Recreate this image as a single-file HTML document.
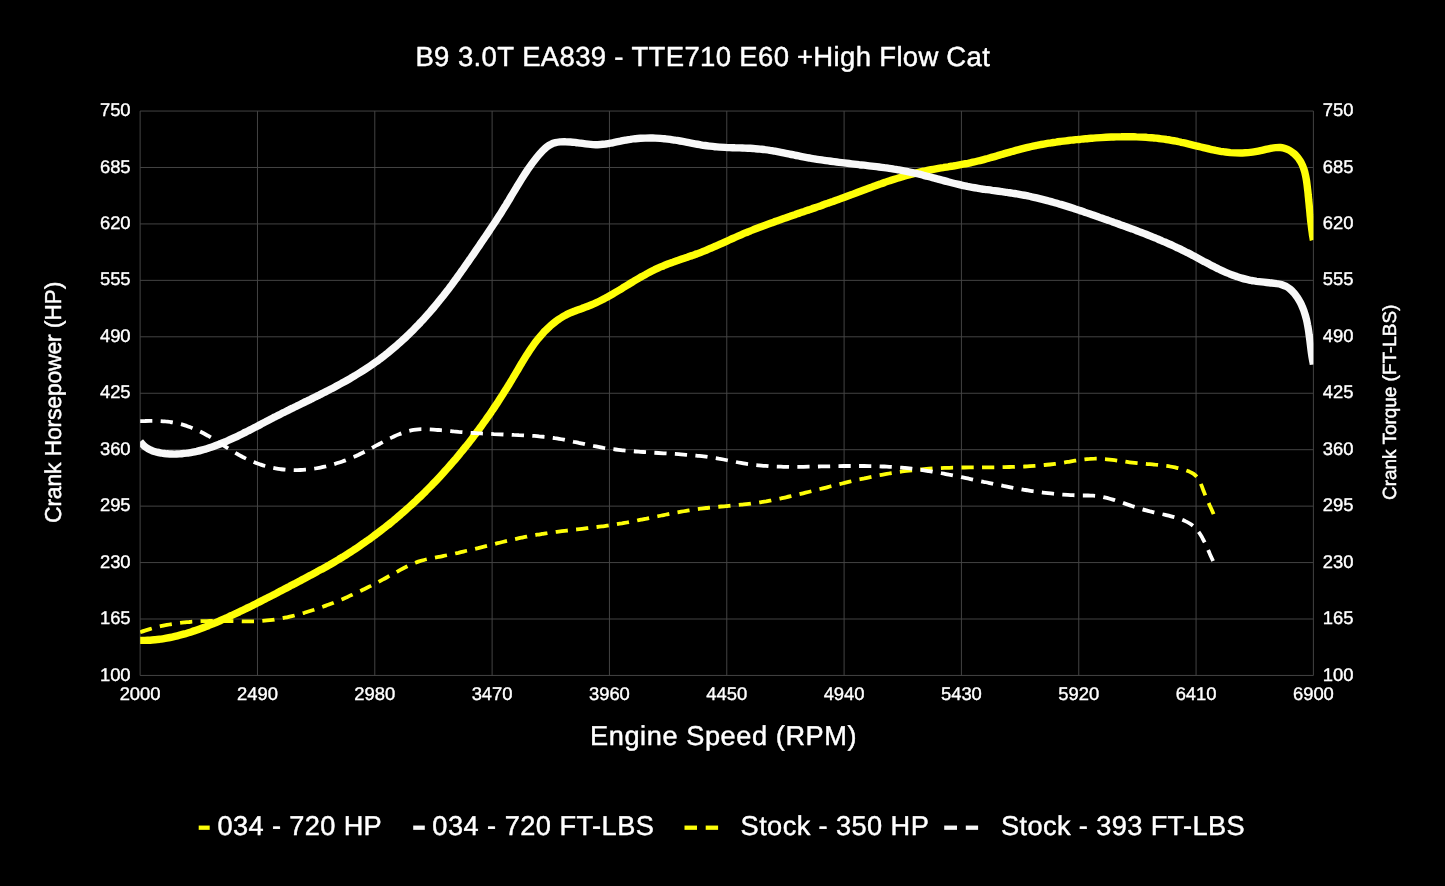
<!DOCTYPE html>
<html><head><meta charset="utf-8"><title>Dyno Chart</title>
<style>
html,body{margin:0;padding:0;background:#000;}
body{width:1445px;height:886px;overflow:hidden;}
svg{display:block;will-change:transform;}
text{font-family:"Liberation Sans",sans-serif;fill:#fff;stroke:#fff;stroke-width:0.45px;stroke-linejoin:round;text-rendering:geometricPrecision;}
.tk text{stroke-width:0.38px;}
</style></head><body>
<svg width="1445" height="886" viewBox="0 0 1445 886">
<rect width="1445" height="886" fill="#000"/>
<defs><clipPath id="pc"><rect x="140.1" y="101.0" width="1173.3" height="584.4"/></clipPath></defs>
<g stroke="#474747" stroke-width="0.95" fill="none">
<line x1="140.14" y1="111.05" x2="140.14" y2="675.45"/>
<line x1="257.47" y1="111.05" x2="257.47" y2="675.45"/>
<line x1="374.79" y1="111.05" x2="374.79" y2="675.45"/>
<line x1="492.12" y1="111.05" x2="492.12" y2="675.45"/>
<line x1="609.44" y1="111.05" x2="609.44" y2="675.45"/>
<line x1="726.77" y1="111.05" x2="726.77" y2="675.45"/>
<line x1="844.10" y1="111.05" x2="844.10" y2="675.45"/>
<line x1="961.42" y1="111.05" x2="961.42" y2="675.45"/>
<line x1="1078.75" y1="111.05" x2="1078.75" y2="675.45"/>
<line x1="1196.07" y1="111.05" x2="1196.07" y2="675.45"/>
<line x1="1313.40" y1="111.05" x2="1313.40" y2="675.45"/>
<line x1="140.14" y1="111.05" x2="1313.40" y2="111.05"/>
<line x1="140.14" y1="167.49" x2="1313.40" y2="167.49"/>
<line x1="140.14" y1="223.93" x2="1313.40" y2="223.93"/>
<line x1="140.14" y1="280.37" x2="1313.40" y2="280.37"/>
<line x1="140.14" y1="336.81" x2="1313.40" y2="336.81"/>
<line x1="140.14" y1="393.25" x2="1313.40" y2="393.25"/>
<line x1="140.14" y1="449.69" x2="1313.40" y2="449.69"/>
<line x1="140.14" y1="506.13" x2="1313.40" y2="506.13"/>
<line x1="140.14" y1="562.57" x2="1313.40" y2="562.57"/>
<line x1="140.14" y1="619.01" x2="1313.40" y2="619.01"/>
<line x1="140.14" y1="675.45" x2="1313.40" y2="675.45"/>
</g>
<g clip-path="url(#pc)" fill="none" stroke-linejoin="round">
<path d="M140.1 640.4C140.9 640.4 143.5 640.4 145.1 640.4C146.8 640.3 148.5 640.3 150.2 640.2C151.9 640.1 153.5 639.9 155.2 639.7C156.9 639.6 158.5 639.4 160.2 639.2C161.8 638.9 163.5 638.7 165.1 638.4C166.8 638.1 168.4 637.8 170.0 637.5C171.7 637.2 173.3 636.8 174.9 636.4C176.5 636.0 178.2 635.6 179.8 635.2C181.4 634.8 183.0 634.4 184.6 633.9C186.2 633.4 187.8 633.0 189.4 632.5C191.0 632.0 192.6 631.4 194.2 630.9C195.8 630.4 197.4 629.8 199.0 629.2C200.5 628.7 202.1 628.1 203.7 627.5C205.3 626.9 206.8 626.3 208.4 625.7C210.0 625.0 211.5 624.4 213.1 623.7C214.6 623.1 216.2 622.4 217.7 621.8C219.3 621.1 220.8 620.4 222.4 619.7C223.9 619.0 225.4 618.4 227.0 617.7C228.5 617.0 230.0 616.2 231.6 615.5C233.1 614.8 234.6 614.1 236.1 613.4C237.7 612.7 239.2 611.9 240.7 611.2C242.2 610.5 243.7 609.8 245.2 609.0C246.7 608.3 248.2 607.5 249.7 606.8C251.2 606.1 252.7 605.3 254.2 604.6C255.7 603.8 257.2 603.1 258.7 602.3C260.2 601.6 261.7 600.8 263.2 600.0C264.7 599.3 266.2 598.5 267.6 597.8C269.1 597.0 270.6 596.2 272.1 595.5C273.6 594.7 275.1 593.9 276.5 593.2C278.0 592.4 279.5 591.6 281.0 590.8C282.5 590.1 284.0 589.3 285.4 588.5C286.9 587.7 288.4 587.0 289.9 586.2C291.4 585.4 292.8 584.6 294.3 583.9C295.8 583.1 297.3 582.3 298.8 581.5C300.3 580.7 301.7 579.9 303.2 579.2C304.7 578.4 306.2 577.6 307.7 576.8C309.2 576.0 310.6 575.2 312.1 574.4C313.6 573.6 315.1 572.8 316.6 572.0C318.0 571.2 319.5 570.4 321.0 569.6C322.5 568.8 323.9 568.0 325.4 567.2C326.9 566.4 328.3 565.5 329.8 564.7C331.2 563.9 332.7 563.0 334.1 562.2C335.6 561.3 337.0 560.5 338.5 559.6C339.9 558.7 341.3 557.9 342.8 557.0C344.2 556.1 345.6 555.2 347.0 554.3C348.5 553.4 349.9 552.5 351.3 551.6C352.7 550.7 354.1 549.7 355.5 548.8C356.9 547.9 358.3 547.0 359.7 546.0C361.0 545.1 362.4 544.1 363.8 543.1C365.2 542.2 366.5 541.2 367.9 540.2C369.3 539.3 370.6 538.3 372.0 537.3C373.3 536.3 374.7 535.3 376.0 534.3C377.4 533.3 378.7 532.3 380.0 531.3C381.4 530.2 382.7 529.2 384.0 528.2C385.3 527.1 386.6 526.1 388.0 525.1C389.3 524.0 390.6 523.0 391.9 521.9C393.2 520.8 394.5 519.8 395.7 518.7C397.0 517.6 398.3 516.5 399.6 515.4C400.8 514.3 402.1 513.2 403.4 512.1C404.6 511.0 405.9 509.9 407.1 508.8C408.4 507.7 409.6 506.6 410.9 505.4C412.1 504.3 413.3 503.2 414.6 502.0C415.8 500.9 417.0 499.7 418.2 498.6C419.5 497.4 420.7 496.3 421.9 495.1C423.1 493.9 424.3 492.8 425.5 491.6C426.6 490.4 427.8 489.2 429.0 488.0C430.2 486.8 431.4 485.6 432.5 484.4C433.7 483.2 434.8 482.0 436.0 480.8C437.2 479.6 438.3 478.4 439.4 477.2C440.6 475.9 441.7 474.7 442.8 473.5C444.0 472.2 445.1 471.0 446.2 469.7C447.3 468.5 448.4 467.2 449.5 466.0C450.7 464.7 451.7 463.5 452.8 462.2C453.9 460.9 455.0 459.6 456.1 458.4C457.2 457.1 458.3 455.8 459.3 454.5C460.4 453.2 461.4 451.9 462.5 450.6C463.6 449.3 464.6 448.0 465.7 446.7C466.7 445.4 467.7 444.1 468.8 442.8C469.8 441.5 470.8 440.1 471.9 438.8C472.9 437.5 473.9 436.1 474.9 434.8C475.9 433.5 476.9 432.1 477.9 430.8C478.9 429.4 479.9 428.1 480.9 426.7C481.9 425.4 482.9 424.0 483.8 422.6C484.8 421.3 485.8 419.9 486.7 418.5C487.7 417.1 488.7 415.8 489.6 414.4C490.6 413.0 491.5 411.6 492.5 410.2C493.4 408.8 494.3 407.4 495.3 406.0C496.2 404.6 497.1 403.2 498.1 401.8C499.0 400.4 499.9 399.0 500.8 397.6C501.7 396.2 502.6 394.8 503.5 393.3C504.4 391.9 505.3 390.5 506.2 389.1C507.1 387.6 508.0 386.2 508.9 384.8C509.7 383.3 510.6 381.9 511.5 380.4C512.4 379.0 513.2 377.5 514.1 376.1C514.9 374.6 515.8 373.2 516.7 371.7C517.5 370.3 518.4 368.8 519.2 367.4C520.1 365.9 520.9 364.5 521.8 363.0C522.7 361.6 523.5 360.1 524.4 358.7C525.3 357.3 526.2 355.9 527.1 354.4C528.0 353.0 528.9 351.6 529.8 350.2C530.8 348.9 531.7 347.5 532.7 346.1C533.6 344.8 534.6 343.4 535.6 342.1C536.6 340.8 537.6 339.5 538.7 338.2C539.7 336.9 540.8 335.6 541.9 334.4C543.0 333.2 544.1 331.9 545.3 330.7C546.5 329.6 547.7 328.4 548.9 327.3C550.1 326.1 551.4 325.0 552.7 323.9C553.9 322.9 555.3 321.8 556.6 320.8C558.0 319.9 559.4 318.9 560.8 318.0C562.2 317.1 563.7 316.2 565.1 315.4C566.6 314.6 568.1 313.9 569.6 313.2C571.2 312.5 572.7 311.9 574.3 311.3C575.8 310.6 577.4 310.1 579.0 309.5C580.6 308.9 582.2 308.4 583.8 307.8C585.3 307.2 586.9 306.7 588.5 306.0C590.1 305.4 591.6 304.8 593.1 304.1C594.7 303.5 596.2 302.8 597.7 302.0C599.2 301.3 600.7 300.6 602.2 299.8C603.7 299.0 605.2 298.3 606.6 297.4C608.1 296.6 609.6 295.8 611.0 295.0C612.5 294.2 613.9 293.3 615.4 292.4C616.8 291.6 618.3 290.7 619.7 289.9C621.1 289.0 622.6 288.1 624.0 287.2C625.4 286.3 626.9 285.5 628.3 284.6C629.7 283.7 631.2 282.8 632.6 282.0C634.0 281.1 635.5 280.2 636.9 279.4C638.4 278.5 639.8 277.7 641.3 276.8C642.7 276.0 644.2 275.2 645.7 274.4C647.1 273.6 648.6 272.8 650.1 272.0C651.6 271.2 653.0 270.5 654.6 269.7C656.1 269.0 657.6 268.3 659.1 267.6C660.6 267.0 662.2 266.3 663.7 265.7C665.3 265.0 666.8 264.4 668.4 263.8C670.0 263.3 671.5 262.7 673.1 262.1C674.7 261.5 676.3 261.0 677.9 260.4C679.4 259.9 681.0 259.4 682.6 258.8C684.2 258.3 685.8 257.7 687.4 257.2C689.0 256.6 690.6 256.1 692.2 255.5C693.8 255.0 695.3 254.4 696.9 253.9C698.5 253.3 700.1 252.7 701.6 252.1C703.2 251.5 704.7 250.8 706.3 250.2C707.8 249.6 709.4 248.9 710.9 248.2C712.5 247.6 714.0 246.9 715.5 246.2C717.1 245.6 718.6 244.9 720.1 244.2C721.7 243.5 723.2 242.8 724.7 242.1C726.2 241.4 727.8 240.7 729.3 240.0C730.8 239.3 732.3 238.6 733.9 238.0C735.4 237.3 736.9 236.6 738.5 235.9C740.0 235.3 741.5 234.6 743.1 233.9C744.6 233.3 746.2 232.6 747.7 232.0C749.3 231.4 750.8 230.7 752.4 230.1C753.9 229.5 755.5 228.9 757.1 228.3C758.6 227.7 760.2 227.1 761.8 226.5C763.3 225.9 764.9 225.3 766.5 224.7C768.0 224.2 769.6 223.6 771.2 223.0C772.8 222.4 774.3 221.9 775.9 221.3C777.5 220.7 779.1 220.2 780.7 219.6C782.3 219.1 783.8 218.5 785.4 218.0C787.0 217.4 788.6 216.8 790.2 216.3C791.8 215.7 793.3 215.2 794.9 214.7C796.5 214.1 798.1 213.6 799.7 213.0C801.3 212.5 802.9 211.9 804.4 211.4C806.0 210.8 807.6 210.3 809.2 209.7C810.8 209.2 812.4 208.6 814.0 208.1C815.5 207.6 817.1 207.0 818.7 206.5C820.3 205.9 821.9 205.4 823.5 204.8C825.0 204.2 826.6 203.7 828.2 203.1C829.8 202.6 831.4 202.0 833.0 201.5C834.5 200.9 836.1 200.3 837.7 199.8C839.3 199.2 840.8 198.6 842.4 198.0C844.0 197.5 845.6 196.9 847.1 196.3C848.7 195.7 850.3 195.1 851.8 194.6C853.4 194.0 855.0 193.4 856.6 192.8C858.1 192.2 859.7 191.6 861.3 191.0C862.8 190.4 864.4 189.8 866.0 189.2C867.5 188.7 869.1 188.1 870.7 187.5C872.3 186.9 873.8 186.3 875.4 185.8C877.0 185.2 878.6 184.6 880.1 184.1C881.7 183.5 883.3 182.9 884.9 182.4C886.5 181.8 888.1 181.3 889.7 180.8C891.3 180.2 892.8 179.7 894.4 179.2C896.0 178.7 897.6 178.2 899.3 177.7C900.9 177.2 902.5 176.7 904.1 176.2C905.7 175.8 907.3 175.3 908.9 174.9C910.5 174.4 912.2 174.0 913.8 173.6C915.4 173.2 917.0 172.8 918.7 172.4C920.3 172.0 921.9 171.6 923.6 171.2C925.2 170.9 926.8 170.5 928.5 170.2C930.1 169.9 931.8 169.6 933.4 169.3C935.1 169.0 936.7 168.7 938.4 168.4C940.0 168.1 941.7 167.8 943.3 167.6C945.0 167.3 946.6 167.0 948.3 166.8C950.0 166.5 951.6 166.2 953.3 166.0C954.9 165.7 956.6 165.4 958.2 165.1C959.9 164.8 961.5 164.5 963.2 164.2C964.8 163.9 966.5 163.6 968.1 163.3C969.8 162.9 971.4 162.6 973.0 162.2C974.7 161.8 976.3 161.4 977.9 161.0C979.6 160.6 981.2 160.2 982.8 159.8C984.4 159.4 986.1 158.9 987.7 158.5C989.3 158.0 990.9 157.6 992.5 157.1C994.2 156.7 995.8 156.2 997.4 155.7C999.0 155.3 1000.6 154.8 1002.2 154.3C1003.8 153.9 1005.5 153.4 1007.1 152.9C1008.7 152.5 1010.3 152.0 1011.9 151.5C1013.5 151.1 1015.2 150.6 1016.8 150.2C1018.4 149.7 1020.0 149.3 1021.6 148.9C1023.3 148.5 1024.9 148.1 1026.5 147.7C1028.1 147.3 1029.8 146.9 1031.4 146.5C1033.0 146.1 1034.7 145.8 1036.3 145.5C1037.9 145.1 1039.6 144.8 1041.2 144.5C1042.9 144.2 1044.5 143.9 1046.2 143.6C1047.8 143.3 1049.4 143.1 1051.1 142.8C1052.7 142.6 1054.4 142.3 1056.1 142.1C1057.7 141.8 1059.4 141.6 1061.0 141.4C1062.7 141.2 1064.3 141.0 1066.0 140.8C1067.7 140.6 1069.3 140.4 1071.0 140.2C1072.7 140.0 1074.3 139.9 1076.0 139.7C1077.7 139.5 1079.3 139.3 1081.0 139.2C1082.7 139.0 1084.3 138.9 1086.0 138.7C1087.7 138.6 1089.4 138.4 1091.0 138.3C1092.7 138.2 1094.4 138.0 1096.1 137.9C1097.7 137.8 1099.4 137.7 1101.1 137.6C1102.8 137.5 1104.5 137.4 1106.1 137.3C1107.8 137.2 1109.5 137.1 1111.2 137.0C1112.9 137.0 1114.5 136.9 1116.2 136.9C1117.9 136.8 1119.6 136.8 1121.3 136.8C1122.9 136.7 1124.6 136.7 1126.3 136.7C1128.0 136.7 1129.6 136.7 1131.3 136.7C1133.0 136.8 1134.7 136.8 1136.4 136.9C1138.0 136.9 1139.7 137.0 1141.4 137.1C1143.0 137.1 1144.7 137.2 1146.4 137.3C1148.1 137.5 1149.7 137.6 1151.4 137.7C1153.1 137.9 1154.7 138.0 1156.4 138.2C1158.1 138.4 1159.7 138.6 1161.4 138.8C1163.1 139.0 1164.7 139.2 1166.4 139.5C1168.0 139.7 1169.7 140.0 1171.3 140.3C1173.0 140.6 1174.6 140.9 1176.3 141.2C1177.9 141.6 1179.6 141.9 1181.2 142.3C1182.9 142.6 1184.5 143.0 1186.2 143.4C1187.8 143.8 1189.4 144.2 1191.1 144.6C1192.7 145.0 1194.3 145.4 1196.0 145.8C1197.6 146.2 1199.3 146.6 1200.9 147.0C1202.5 147.4 1204.2 147.8 1205.8 148.2C1207.4 148.6 1209.1 149.0 1210.7 149.3C1212.3 149.7 1214.0 150.0 1215.6 150.4C1217.3 150.7 1218.9 151.0 1220.5 151.3C1222.2 151.5 1223.8 151.8 1225.5 152.0C1227.1 152.2 1228.7 152.4 1230.4 152.6C1232.0 152.7 1233.7 152.8 1235.4 152.9C1237.0 153.0 1238.7 153.0 1240.3 153.0C1242.0 153.0 1243.7 152.9 1245.3 152.8C1247.0 152.7 1248.7 152.6 1250.3 152.4C1252.0 152.2 1253.7 151.9 1255.4 151.6C1257.1 151.3 1258.8 151.0 1260.5 150.6C1262.2 150.3 1263.9 149.8 1265.6 149.4C1267.3 149.0 1269.0 148.6 1270.6 148.3C1272.3 148.0 1274.0 147.7 1275.6 147.6C1277.3 147.5 1278.9 147.4 1280.5 147.5C1282.1 147.7 1283.6 148.0 1285.1 148.5C1286.6 149.0 1288.1 149.6 1289.5 150.4C1290.9 151.2 1292.2 152.2 1293.5 153.2C1294.7 154.2 1295.9 155.4 1297.0 156.7C1298.1 158.0 1299.1 159.3 1300.0 160.7C1300.9 162.2 1301.7 163.7 1302.4 165.2C1303.1 166.7 1303.6 168.3 1304.1 169.9C1304.7 171.5 1305.1 173.2 1305.4 174.9C1305.8 176.6 1306.1 178.3 1306.4 180.0C1306.7 181.7 1306.9 183.4 1307.1 185.1C1307.3 186.8 1307.5 188.5 1307.7 190.2C1307.9 191.9 1308.1 193.5 1308.2 195.2C1308.4 196.9 1308.6 198.6 1308.7 200.2C1308.9 201.9 1309.0 203.5 1309.2 205.2C1309.3 206.8 1309.5 208.5 1309.7 210.1C1309.8 211.8 1310.0 213.4 1310.1 215.0C1310.3 216.7 1310.5 218.3 1310.6 220.0C1310.8 221.6 1311.0 223.3 1311.2 224.9C1311.4 226.6 1311.6 228.3 1311.8 229.9C1312.1 231.6 1312.3 233.3 1312.5 235.0C1312.8 236.6 1313.2 239.2 1313.4 240.0" stroke="#fefe08" stroke-width="7.4"/>
<path d="M140.2 441.7C140.7 442.3 142.4 444.4 143.6 445.5C144.9 446.7 146.3 447.6 147.7 448.5C149.1 449.3 150.6 450.0 152.1 450.7C153.7 451.3 155.3 451.7 156.9 452.2C158.5 452.6 160.2 452.9 161.8 453.2C163.5 453.4 165.1 453.6 166.8 453.8C168.5 453.9 170.1 454.0 171.8 454.0C173.5 454.1 175.2 454.1 176.8 454.0C178.5 454.0 180.2 453.9 181.8 453.7C183.5 453.6 185.2 453.4 186.8 453.2C188.5 452.9 190.2 452.7 191.8 452.4C193.5 452.1 195.1 451.7 196.7 451.4C198.4 451.0 200.0 450.6 201.6 450.1C203.2 449.7 204.8 449.2 206.4 448.8C208.0 448.3 209.6 447.7 211.2 447.2C212.8 446.7 214.4 446.1 215.9 445.5C217.5 444.9 219.1 444.3 220.6 443.7C222.2 443.1 223.7 442.4 225.3 441.8C226.8 441.1 228.4 440.4 229.9 439.7C231.4 439.0 232.9 438.3 234.4 437.6C236.0 436.9 237.5 436.2 239.0 435.4C240.5 434.7 242.0 434.0 243.5 433.2C245.0 432.5 246.4 431.7 247.9 431.0C249.4 430.2 250.9 429.5 252.4 428.7C253.9 427.9 255.3 427.2 256.8 426.4C258.3 425.6 259.8 424.8 261.2 424.1C262.7 423.3 264.2 422.5 265.6 421.8C267.1 421.0 268.6 420.2 270.1 419.4C271.6 418.7 273.0 417.9 274.5 417.1C276.0 416.4 277.5 415.6 279.0 414.9C280.5 414.1 282.0 413.4 283.5 412.6C285.0 411.9 286.5 411.1 288.0 410.4C289.5 409.6 291.0 408.9 292.5 408.2C294.0 407.4 295.5 406.7 297.0 405.9C298.5 405.2 300.0 404.5 301.5 403.7C303.0 403.0 304.5 402.2 306.1 401.5C307.6 400.8 309.1 400.0 310.6 399.3C312.1 398.5 313.6 397.8 315.1 397.0C316.6 396.3 318.1 395.5 319.6 394.8C321.1 394.0 322.6 393.3 324.1 392.5C325.6 391.7 327.1 391.0 328.6 390.2C330.1 389.4 331.6 388.7 333.1 387.9C334.6 387.1 336.0 386.3 337.5 385.5C339.0 384.7 340.5 383.9 341.9 383.1C343.4 382.3 344.9 381.5 346.3 380.7C347.8 379.8 349.2 379.0 350.7 378.2C352.1 377.3 353.6 376.5 355.0 375.6C356.4 374.8 357.9 373.9 359.3 373.0C360.7 372.1 362.1 371.2 363.5 370.3C364.9 369.4 366.3 368.5 367.7 367.6C369.1 366.7 370.5 365.8 371.9 364.8C373.2 363.9 374.6 362.9 375.9 361.9C377.3 361.0 378.6 360.0 380.0 359.0C381.3 358.0 382.6 357.0 384.0 356.0C385.3 354.9 386.6 353.9 387.9 352.9C389.2 351.8 390.5 350.7 391.7 349.7C393.0 348.6 394.3 347.5 395.6 346.4C396.8 345.3 398.1 344.2 399.3 343.1C400.6 342.0 401.8 340.9 403.0 339.8C404.3 338.6 405.5 337.5 406.7 336.3C407.9 335.2 409.1 334.0 410.3 332.8C411.5 331.7 412.7 330.5 413.9 329.3C415.0 328.1 416.2 326.9 417.4 325.7C418.5 324.5 419.7 323.3 420.8 322.0C422.0 320.8 423.1 319.6 424.2 318.4C425.3 317.1 426.5 315.9 427.6 314.6C428.7 313.4 429.8 312.1 430.9 310.8C432.0 309.6 433.1 308.3 434.2 307.0C435.2 305.7 436.3 304.4 437.4 303.1C438.4 301.8 439.5 300.5 440.5 299.2C441.6 297.9 442.6 296.6 443.7 295.3C444.7 294.0 445.7 292.7 446.8 291.3C447.8 290.0 448.8 288.7 449.8 287.3C450.8 286.0 451.8 284.7 452.8 283.3C453.8 282.0 454.8 280.6 455.8 279.3C456.8 277.9 457.7 276.6 458.7 275.2C459.7 273.9 460.7 272.5 461.6 271.1C462.6 269.8 463.6 268.4 464.5 267.0C465.5 265.7 466.4 264.3 467.4 262.9C468.3 261.5 469.3 260.2 470.2 258.8C471.2 257.4 472.1 256.0 473.1 254.7C474.0 253.3 475.0 251.9 475.9 250.5C476.9 249.1 477.8 247.8 478.8 246.4C479.7 245.0 480.6 243.6 481.6 242.2C482.5 240.8 483.5 239.5 484.4 238.1C485.3 236.7 486.3 235.3 487.2 233.9C488.1 232.5 489.1 231.1 490.0 229.7C490.9 228.3 491.9 227.0 492.8 225.6C493.7 224.2 494.6 222.8 495.5 221.4C496.4 220.0 497.4 218.6 498.3 217.1C499.2 215.7 500.1 214.3 501.0 212.9C501.9 211.5 502.8 210.1 503.6 208.7C504.5 207.3 505.4 205.8 506.3 204.4C507.1 203.0 508.0 201.6 508.9 200.1C509.7 198.7 510.6 197.3 511.4 195.8C512.3 194.4 513.2 192.9 514.0 191.5C514.9 190.1 515.7 188.6 516.6 187.2C517.4 185.8 518.3 184.3 519.2 182.9C520.1 181.5 520.9 180.1 521.8 178.7C522.7 177.2 523.6 175.8 524.5 174.4C525.4 173.0 526.4 171.6 527.3 170.2C528.2 168.9 529.2 167.5 530.2 166.1C531.2 164.7 532.1 163.4 533.2 162.0C534.2 160.7 535.2 159.4 536.3 158.0C537.3 156.7 538.4 155.4 539.5 154.1C540.7 152.9 541.8 151.6 543.0 150.4C544.2 149.2 545.4 148.0 546.7 147.0C548.0 146.0 549.4 145.1 550.9 144.4C552.3 143.7 553.9 143.1 555.5 142.7C557.1 142.3 558.8 142.1 560.4 141.9C562.1 141.8 563.8 141.7 565.5 141.8C567.1 141.8 568.8 141.9 570.5 142.0C572.2 142.1 573.8 142.3 575.5 142.5C577.2 142.7 578.9 143.0 580.5 143.2C582.2 143.5 583.9 143.7 585.6 143.9C587.2 144.1 588.9 144.3 590.6 144.4C592.2 144.6 593.9 144.7 595.6 144.7C597.2 144.7 598.9 144.6 600.5 144.5C602.2 144.4 603.9 144.2 605.5 144.0C607.2 143.7 608.8 143.5 610.5 143.2C612.1 142.9 613.8 142.5 615.5 142.2C617.1 141.9 618.8 141.5 620.4 141.2C622.1 140.8 623.7 140.5 625.4 140.2C627.1 139.9 628.7 139.6 630.4 139.4C632.0 139.1 633.7 138.9 635.4 138.7C637.0 138.6 638.7 138.4 640.4 138.3C642.0 138.2 643.7 138.1 645.3 138.1C647.0 138.0 648.7 138.0 650.3 138.0C652.0 138.0 653.7 138.1 655.3 138.1C657.0 138.2 658.7 138.3 660.3 138.4C662.0 138.5 663.6 138.7 665.3 138.8C666.9 139.0 668.6 139.2 670.3 139.4C671.9 139.7 673.6 139.9 675.2 140.2C676.9 140.4 678.5 140.7 680.1 141.0C681.8 141.3 683.4 141.6 685.1 141.9C686.7 142.2 688.4 142.6 690.0 142.9C691.7 143.2 693.3 143.5 695.0 143.8C696.6 144.1 698.3 144.4 699.9 144.7C701.6 145.0 703.2 145.3 704.9 145.5C706.5 145.8 708.2 146.0 709.8 146.2C711.5 146.4 713.2 146.6 714.8 146.7C716.5 146.9 718.2 147.0 719.8 147.1C721.5 147.2 723.2 147.3 724.8 147.4C726.5 147.5 728.2 147.6 729.9 147.6C731.5 147.7 733.2 147.7 734.9 147.8C736.6 147.8 738.2 147.9 739.9 147.9C741.6 148.0 743.3 148.0 744.9 148.1C746.6 148.2 748.3 148.3 750.0 148.3C751.6 148.4 753.3 148.5 755.0 148.7C756.6 148.8 758.3 148.9 760.0 149.1C761.6 149.3 763.3 149.4 764.9 149.7C766.6 149.9 768.3 150.1 769.9 150.4C771.6 150.6 773.2 150.9 774.9 151.2C776.5 151.5 778.2 151.8 779.8 152.1C781.4 152.4 783.1 152.8 784.7 153.1C786.4 153.4 788.0 153.8 789.7 154.1C791.3 154.5 793.0 154.8 794.6 155.1C796.2 155.5 797.9 155.8 799.5 156.1C801.2 156.5 802.8 156.8 804.5 157.1C806.1 157.4 807.8 157.7 809.4 158.0C811.1 158.3 812.7 158.6 814.4 158.8C816.0 159.1 817.7 159.4 819.3 159.6C821.0 159.9 822.6 160.1 824.3 160.3C825.9 160.6 827.6 160.8 829.2 161.0C830.9 161.3 832.6 161.5 834.2 161.7C835.9 161.9 837.5 162.1 839.2 162.3C840.8 162.5 842.5 162.7 844.2 162.9C845.8 163.1 847.5 163.3 849.2 163.5C850.8 163.7 852.5 163.9 854.1 164.1C855.8 164.3 857.5 164.5 859.1 164.7C860.8 164.8 862.5 165.0 864.1 165.2C865.8 165.4 867.5 165.6 869.1 165.8C870.8 166.0 872.4 166.2 874.1 166.4C875.8 166.6 877.4 166.8 879.1 167.0C880.8 167.2 882.4 167.4 884.1 167.6C885.7 167.8 887.4 168.1 889.1 168.3C890.7 168.5 892.4 168.8 894.0 169.1C895.7 169.3 897.3 169.6 899.0 169.9C900.6 170.2 902.3 170.5 903.9 170.8C905.6 171.1 907.2 171.4 908.8 171.8C910.5 172.1 912.1 172.5 913.7 172.9C915.4 173.2 917.0 173.6 918.6 174.0C920.2 174.4 921.9 174.8 923.5 175.3C925.1 175.7 926.7 176.1 928.4 176.5C930.0 177.0 931.6 177.4 933.2 177.8C934.8 178.3 936.4 178.7 938.1 179.1C939.7 179.6 941.3 180.0 942.9 180.4C944.5 180.9 946.1 181.3 947.8 181.7C949.4 182.2 951.0 182.6 952.6 183.0C954.3 183.4 955.9 183.8 957.5 184.2C959.1 184.6 960.8 185.0 962.4 185.3C964.0 185.7 965.7 186.0 967.3 186.4C968.9 186.7 970.6 187.0 972.2 187.3C973.9 187.6 975.5 187.9 977.2 188.2C978.8 188.5 980.5 188.7 982.1 189.0C983.8 189.2 985.4 189.5 987.1 189.7C988.8 189.9 990.4 190.1 992.1 190.4C993.7 190.6 995.4 190.8 997.1 191.0C998.7 191.3 1000.4 191.5 1002.0 191.7C1003.7 191.9 1005.4 192.2 1007.0 192.4C1008.7 192.6 1010.3 192.9 1012.0 193.1C1013.6 193.4 1015.3 193.6 1016.9 193.9C1018.6 194.2 1020.2 194.5 1021.9 194.8C1023.5 195.1 1025.2 195.4 1026.8 195.7C1028.4 196.1 1030.1 196.4 1031.7 196.8C1033.3 197.1 1035.0 197.5 1036.6 197.9C1038.2 198.3 1039.8 198.7 1041.5 199.1C1043.1 199.5 1044.7 199.9 1046.3 200.3C1047.9 200.7 1049.5 201.2 1051.1 201.6C1052.8 202.1 1054.4 202.5 1056.0 203.0C1057.6 203.5 1059.2 203.9 1060.8 204.4C1062.4 204.9 1064.0 205.4 1065.6 205.9C1067.2 206.4 1068.8 206.9 1070.4 207.4C1072.0 207.9 1073.6 208.4 1075.2 209.0C1076.8 209.5 1078.3 210.0 1079.9 210.5C1081.5 211.1 1083.1 211.6 1084.7 212.2C1086.3 212.7 1087.9 213.2 1089.5 213.8C1091.0 214.3 1092.6 214.9 1094.2 215.4C1095.8 216.0 1097.4 216.5 1099.0 217.1C1100.5 217.7 1102.1 218.2 1103.7 218.8C1105.3 219.3 1106.9 219.9 1108.4 220.4C1110.0 221.0 1111.6 221.6 1113.2 222.1C1114.7 222.7 1116.3 223.2 1117.9 223.8C1119.5 224.4 1121.0 224.9 1122.6 225.5C1124.2 226.1 1125.8 226.6 1127.3 227.2C1128.9 227.8 1130.5 228.4 1132.0 228.9C1133.6 229.5 1135.2 230.1 1136.7 230.7C1138.3 231.3 1139.8 231.9 1141.4 232.5C1143.0 233.1 1144.5 233.7 1146.1 234.3C1147.6 234.9 1149.2 235.5 1150.7 236.1C1152.3 236.8 1153.8 237.4 1155.4 238.0C1156.9 238.7 1158.4 239.3 1160.0 240.0C1161.5 240.6 1163.0 241.3 1164.6 241.9C1166.1 242.6 1167.6 243.3 1169.2 244.0C1170.7 244.6 1172.2 245.3 1173.7 246.0C1175.2 246.7 1176.8 247.5 1178.3 248.2C1179.8 248.9 1181.3 249.6 1182.8 250.4C1184.3 251.1 1185.8 251.9 1187.3 252.6C1188.8 253.4 1190.3 254.2 1191.8 254.9C1193.3 255.7 1194.7 256.5 1196.2 257.3C1197.7 258.1 1199.2 258.9 1200.7 259.7C1202.2 260.5 1203.6 261.3 1205.1 262.1C1206.6 262.9 1208.1 263.7 1209.6 264.4C1211.1 265.2 1212.6 266.0 1214.1 266.7C1215.6 267.5 1217.1 268.2 1218.6 269.0C1220.1 269.7 1221.6 270.4 1223.1 271.1C1224.6 271.8 1226.1 272.5 1227.7 273.1C1229.2 273.7 1230.8 274.4 1232.3 275.0C1233.9 275.6 1235.4 276.1 1237.0 276.6C1238.6 277.2 1240.1 277.7 1241.7 278.1C1243.3 278.6 1244.9 279.0 1246.6 279.4C1248.2 279.8 1249.8 280.1 1251.5 280.5C1253.1 280.8 1254.8 281.0 1256.5 281.3C1258.1 281.5 1259.8 281.7 1261.5 281.9C1263.2 282.1 1264.9 282.3 1266.6 282.5C1268.2 282.7 1269.9 282.8 1271.6 283.0C1273.3 283.2 1275.0 283.4 1276.7 283.7C1278.3 283.9 1280.0 284.2 1281.5 284.6C1283.1 285.1 1284.6 285.7 1286.1 286.4C1287.5 287.2 1288.9 288.2 1290.1 289.2C1291.4 290.3 1292.6 291.5 1293.7 292.7C1294.8 294.0 1295.9 295.4 1296.9 296.8C1297.8 298.2 1298.7 299.6 1299.5 301.1C1300.4 302.5 1301.1 304.0 1301.8 305.6C1302.5 307.1 1303.1 308.6 1303.7 310.2C1304.2 311.7 1304.7 313.3 1305.2 314.9C1305.7 316.5 1306.1 318.1 1306.5 319.7C1306.9 321.4 1307.2 323.0 1307.5 324.7C1307.9 326.3 1308.1 328.0 1308.4 329.6C1308.7 331.3 1308.9 333.0 1309.1 334.7C1309.4 336.3 1309.6 338.0 1309.8 339.7C1310.0 341.4 1310.2 343.1 1310.4 344.7C1310.6 346.4 1310.8 348.1 1311.0 349.8C1311.2 351.4 1311.4 353.1 1311.7 354.7C1311.9 356.4 1312.2 358.0 1312.5 359.6C1312.8 361.3 1313.3 363.7 1313.4 364.5" stroke="#f8f8f8" stroke-width="7.4"/>
<path d="M140.1 632.3C140.9 632.0 143.3 631.1 144.9 630.6C146.5 630.1 148.1 629.6 149.7 629.1C151.4 628.6 153.0 628.1 154.6 627.7C156.2 627.3 157.9 626.9 159.5 626.5C161.1 626.1 162.8 625.8 164.4 625.4C166.1 625.1 167.7 624.8 169.4 624.5C171.0 624.2 172.7 624.0 174.3 623.7C176.0 623.5 177.6 623.2 179.3 623.0C181.0 622.8 182.6 622.6 184.3 622.4C186.0 622.3 187.6 622.1 189.3 622.0C191.0 621.8 192.6 621.7 194.3 621.6C196.0 621.5 197.7 621.4 199.4 621.3C201.0 621.2 202.7 621.2 204.4 621.1C206.1 621.1 207.8 621.0 209.4 621.0C211.1 621.0 212.8 621.0 214.5 620.9C216.2 620.9 217.8 620.9 219.5 620.9C221.2 621.0 222.9 621.0 224.6 621.0C226.3 621.0 227.9 621.1 229.6 621.1C231.3 621.1 233.0 621.2 234.7 621.2C236.3 621.2 238.0 621.3 239.7 621.3C241.4 621.3 243.1 621.4 244.7 621.4C246.4 621.4 248.1 621.4 249.8 621.4C251.5 621.3 253.1 621.3 254.8 621.3C256.5 621.2 258.1 621.2 259.8 621.1C261.5 621.0 263.2 620.8 264.8 620.7C266.5 620.6 268.2 620.4 269.8 620.2C271.5 620.0 273.2 619.8 274.8 619.5C276.5 619.3 278.1 619.0 279.8 618.7C281.5 618.4 283.1 618.1 284.8 617.7C286.4 617.4 288.1 617.0 289.7 616.6C291.3 616.3 293.0 615.9 294.6 615.5C296.3 615.0 297.9 614.6 299.5 614.2C301.1 613.7 302.8 613.2 304.4 612.8C306.0 612.3 307.6 611.8 309.2 611.3C310.8 610.8 312.4 610.3 314.0 609.8C315.6 609.3 317.2 608.7 318.8 608.2C320.4 607.6 322.0 607.1 323.5 606.5C325.1 605.9 326.7 605.4 328.3 604.8C329.8 604.2 331.4 603.6 333.0 603.0C334.5 602.4 336.1 601.7 337.6 601.1C339.2 600.5 340.7 599.8 342.3 599.2C343.8 598.5 345.3 597.9 346.9 597.2C348.4 596.5 349.9 595.8 351.5 595.1C353.0 594.5 354.5 593.8 356.0 593.0C357.6 592.3 359.1 591.6 360.6 590.9C362.1 590.2 363.6 589.4 365.1 588.7C366.6 588.0 368.1 587.2 369.6 586.4C371.1 585.7 372.6 584.9 374.1 584.1C375.6 583.4 377.1 582.6 378.6 581.8C380.1 581.0 381.6 580.2 383.1 579.4C384.5 578.6 386.0 577.8 387.5 577.0C389.0 576.2 390.5 575.3 391.9 574.5C393.4 573.7 394.9 572.9 396.4 572.0C397.9 571.2 399.3 570.4 400.8 569.6C402.3 568.8 403.8 568.0 405.3 567.3C406.8 566.5 408.3 565.8 409.8 565.1C411.4 564.4 412.9 563.7 414.4 563.1C416.0 562.5 417.5 561.9 419.1 561.4C420.7 560.9 422.3 560.4 423.9 560.0C425.5 559.5 427.1 559.2 428.8 558.8C430.4 558.4 432.1 558.1 433.7 557.8C435.4 557.5 437.0 557.2 438.7 556.9C440.3 556.6 442.0 556.3 443.6 555.9C445.3 555.6 446.9 555.3 448.6 554.9C450.2 554.6 451.9 554.2 453.5 553.9C455.2 553.5 456.8 553.1 458.4 552.8C460.1 552.4 461.7 552.0 463.4 551.6C465.0 551.2 466.6 550.8 468.3 550.5C469.9 550.1 471.5 549.7 473.2 549.3C474.8 548.9 476.4 548.5 478.1 548.1C479.7 547.6 481.3 547.2 483.0 546.8C484.6 546.4 486.2 546.0 487.9 545.6C489.5 545.2 491.1 544.8 492.8 544.4C494.4 544.0 496.0 543.6 497.6 543.2C499.3 542.8 500.9 542.4 502.5 542.0C504.2 541.6 505.8 541.2 507.4 540.8C509.1 540.5 510.7 540.1 512.4 539.7C514.0 539.3 515.6 539.0 517.3 538.6C518.9 538.2 520.6 537.9 522.2 537.6C523.8 537.2 525.5 536.9 527.1 536.6C528.8 536.2 530.4 535.9 532.1 535.6C533.7 535.3 535.4 535.0 537.0 534.7C538.7 534.5 540.3 534.2 542.0 533.9C543.6 533.7 545.3 533.4 547.0 533.2C548.6 532.9 550.3 532.7 551.9 532.5C553.6 532.2 555.3 532.0 556.9 531.8C558.6 531.6 560.3 531.4 561.9 531.2C563.6 531.0 565.3 530.8 566.9 530.6C568.6 530.4 570.3 530.2 572.0 530.0C573.6 529.8 575.3 529.6 577.0 529.4C578.6 529.2 580.3 529.0 582.0 528.8C583.6 528.6 585.3 528.4 587.0 528.2C588.7 528.0 590.3 527.8 592.0 527.6C593.7 527.4 595.3 527.2 597.0 527.0C598.7 526.8 600.3 526.6 602.0 526.4C603.7 526.2 605.3 525.9 607.0 525.7C608.7 525.5 610.3 525.2 612.0 525.0C613.6 524.7 615.3 524.5 617.0 524.2C618.6 523.9 620.3 523.6 621.9 523.4C623.6 523.1 625.2 522.8 626.9 522.5C628.5 522.2 630.2 521.9 631.8 521.5C633.5 521.2 635.1 520.9 636.8 520.6C638.4 520.2 640.1 519.9 641.7 519.6C643.4 519.2 645.0 518.9 646.7 518.6C648.3 518.2 649.9 517.9 651.6 517.6C653.2 517.2 654.9 516.9 656.5 516.5C658.2 516.2 659.8 515.8 661.5 515.5C663.1 515.2 664.7 514.8 666.4 514.5C668.0 514.2 669.7 513.9 671.3 513.5C673.0 513.2 674.6 512.9 676.3 512.6C677.9 512.3 679.6 512.0 681.2 511.7C682.9 511.4 684.5 511.1 686.2 510.8C687.8 510.5 689.5 510.3 691.2 510.0C692.8 509.8 694.5 509.5 696.1 509.3C697.8 509.0 699.5 508.8 701.1 508.6C702.8 508.4 704.5 508.2 706.1 508.0C707.8 507.8 709.5 507.7 711.2 507.5C712.8 507.3 714.5 507.2 716.2 507.0C717.9 506.8 719.5 506.7 721.2 506.5C722.9 506.4 724.6 506.3 726.2 506.1C727.9 506.0 729.6 505.8 731.3 505.7C732.9 505.5 734.6 505.4 736.3 505.2C738.0 505.0 739.6 504.9 741.3 504.7C743.0 504.5 744.6 504.4 746.3 504.2C748.0 504.0 749.6 503.8 751.3 503.5C753.0 503.3 754.6 503.1 756.3 502.9C757.9 502.6 759.6 502.4 761.3 502.1C762.9 501.8 764.6 501.5 766.2 501.3C767.9 501.0 769.5 500.7 771.1 500.4C772.8 500.0 774.4 499.7 776.1 499.4C777.7 499.1 779.4 498.7 781.0 498.4C782.6 498.0 784.3 497.7 785.9 497.3C787.5 497.0 789.2 496.6 790.8 496.2C792.4 495.8 794.1 495.5 795.7 495.1C797.3 494.7 799.0 494.3 800.6 493.9C802.2 493.5 803.9 493.1 805.5 492.7C807.1 492.3 808.7 491.9 810.4 491.5C812.0 491.1 813.6 490.7 815.3 490.2C816.9 489.8 818.5 489.4 820.2 489.0C821.8 488.6 823.4 488.2 825.0 487.8C826.7 487.4 828.3 486.9 829.9 486.5C831.6 486.1 833.2 485.7 834.8 485.3C836.5 484.9 838.1 484.5 839.7 484.1C841.4 483.7 843.0 483.3 844.7 482.9C846.3 482.5 847.9 482.1 849.6 481.7C851.2 481.3 852.9 480.9 854.5 480.6C856.1 480.2 857.8 479.8 859.4 479.4C861.1 479.1 862.7 478.7 864.4 478.4C866.0 478.0 867.7 477.6 869.3 477.3C871.0 477.0 872.6 476.6 874.3 476.3C875.9 476.0 877.6 475.6 879.2 475.3C880.9 475.0 882.5 474.7 884.2 474.4C885.8 474.1 887.5 473.8 889.1 473.5C890.8 473.2 892.5 473.0 894.1 472.7C895.8 472.4 897.4 472.2 899.1 471.9C900.7 471.7 902.4 471.5 904.1 471.2C905.7 471.0 907.4 470.8 909.1 470.6C910.7 470.4 912.4 470.2 914.1 470.0C915.7 469.8 917.4 469.7 919.1 469.5C920.7 469.4 922.4 469.2 924.1 469.1C925.7 469.0 927.4 468.8 929.1 468.7C930.7 468.6 932.4 468.5 934.1 468.4C935.8 468.3 937.4 468.2 939.1 468.2C940.8 468.1 942.5 468.0 944.1 467.9C945.8 467.9 947.5 467.8 949.2 467.8C950.8 467.7 952.5 467.7 954.2 467.7C955.9 467.6 957.6 467.6 959.2 467.6C960.9 467.5 962.6 467.5 964.3 467.5C965.9 467.5 967.6 467.5 969.3 467.4C971.0 467.4 972.7 467.4 974.3 467.4C976.0 467.4 977.7 467.4 979.4 467.4C981.1 467.4 982.7 467.4 984.4 467.3C986.1 467.3 987.8 467.3 989.5 467.3C991.2 467.3 992.8 467.3 994.5 467.3C996.2 467.3 997.9 467.2 999.6 467.2C1001.2 467.2 1002.9 467.2 1004.6 467.1C1006.3 467.1 1008.0 467.1 1009.6 467.0C1011.3 467.0 1013.0 466.9 1014.7 466.9C1016.4 466.8 1018.0 466.8 1019.7 466.7C1021.4 466.6 1023.1 466.6 1024.7 466.5C1026.4 466.4 1028.1 466.3 1029.8 466.2C1031.4 466.1 1033.1 466.0 1034.8 465.9C1036.5 465.8 1038.1 465.6 1039.8 465.5C1041.5 465.4 1043.2 465.2 1044.8 465.0C1046.5 464.9 1048.2 464.7 1049.9 464.5C1051.5 464.3 1053.2 464.1 1054.9 463.9C1056.5 463.7 1058.2 463.4 1059.9 463.2C1061.5 463.0 1063.2 462.7 1064.9 462.4C1066.5 462.1 1068.2 461.9 1069.9 461.6C1071.5 461.3 1073.2 461.0 1074.8 460.7C1076.5 460.5 1078.2 460.2 1079.8 460.0C1081.5 459.7 1083.1 459.5 1084.8 459.3C1086.5 459.1 1088.1 459.0 1089.8 458.9C1091.4 458.7 1093.1 458.7 1094.7 458.7C1096.4 458.6 1098.1 458.7 1099.7 458.7C1101.4 458.8 1103.0 458.9 1104.7 459.1C1106.3 459.2 1108.0 459.4 1109.7 459.6C1111.3 459.8 1113.0 460.0 1114.6 460.2C1116.3 460.4 1118.0 460.7 1119.6 460.9C1121.3 461.1 1123.0 461.4 1124.7 461.6C1126.3 461.9 1128.0 462.1 1129.7 462.3C1131.4 462.5 1133.1 462.7 1134.8 462.9C1136.5 463.1 1138.2 463.2 1139.8 463.4C1141.5 463.5 1143.2 463.7 1144.9 463.8C1146.6 464.0 1148.3 464.1 1150.0 464.2C1151.7 464.4 1153.4 464.5 1155.1 464.7C1156.8 464.8 1158.5 465.0 1160.2 465.2C1161.8 465.4 1163.5 465.6 1165.2 465.8C1166.8 466.0 1168.5 466.2 1170.2 466.5C1171.8 466.8 1173.4 467.1 1175.1 467.4C1176.7 467.8 1178.3 468.1 1179.9 468.6C1181.5 469.0 1183.1 469.4 1184.7 469.9C1186.2 470.4 1187.8 471.0 1189.3 471.6C1190.8 472.3 1192.3 473.0 1193.6 473.9C1194.9 474.8 1196.1 475.9 1197.1 477.1C1198.1 478.3 1198.9 479.8 1199.7 481.3C1200.5 482.8 1201.1 484.5 1201.8 486.2C1202.4 487.8 1203.0 489.5 1203.6 491.1C1204.3 492.7 1204.9 494.3 1205.5 495.9C1206.2 497.4 1206.8 499.0 1207.5 500.5C1208.2 502.0 1208.9 503.5 1209.5 505.0C1210.2 506.5 1210.9 508.0 1211.6 509.5C1212.3 511.1 1213.3 513.4 1213.6 514.2" stroke="#fefe08" stroke-width="3.8" stroke-dasharray="12.246 8.335"/>
<path d="M140.1 421.1C140.9 421.1 143.4 421.0 145.1 421.0C146.8 420.9 148.4 420.9 150.1 420.9C151.8 420.8 153.5 420.8 155.2 420.9C156.9 420.9 158.6 420.9 160.2 421.0C161.9 421.1 163.6 421.2 165.3 421.4C167.0 421.5 168.6 421.7 170.3 422.0C171.9 422.2 173.6 422.5 175.2 422.8C176.9 423.2 178.5 423.5 180.1 424.0C181.8 424.4 183.4 424.9 185.0 425.4C186.6 425.9 188.1 426.5 189.7 427.0C191.3 427.6 192.8 428.3 194.4 428.9C195.9 429.6 197.5 430.3 199.0 431.0C200.5 431.7 202.0 432.5 203.5 433.3C205.0 434.1 206.4 434.9 207.9 435.7C209.4 436.6 210.8 437.4 212.2 438.3C213.7 439.2 215.1 440.1 216.5 441.0C217.9 441.9 219.3 442.8 220.8 443.7C222.2 444.6 223.6 445.5 225.0 446.4C226.4 447.3 227.8 448.2 229.2 449.1C230.7 450.0 232.1 450.9 233.5 451.8C235.0 452.7 236.4 453.5 237.9 454.3C239.3 455.2 240.8 456.0 242.3 456.8C243.8 457.5 245.3 458.3 246.8 459.0C248.3 459.7 249.9 460.4 251.4 461.1C252.9 461.7 254.5 462.4 256.1 463.0C257.7 463.6 259.3 464.1 260.8 464.6C262.4 465.2 264.1 465.7 265.7 466.1C267.3 466.6 268.9 467.0 270.5 467.4C272.2 467.7 273.8 468.1 275.5 468.4C277.1 468.7 278.8 469.0 280.4 469.2C282.1 469.4 283.7 469.6 285.4 469.7C287.1 469.9 288.7 470.0 290.4 470.1C292.1 470.1 293.7 470.2 295.4 470.2C297.1 470.2 298.8 470.1 300.4 470.0C302.1 470.0 303.8 469.9 305.4 469.7C307.1 469.6 308.8 469.4 310.5 469.2C312.1 469.0 313.8 468.8 315.4 468.5C317.1 468.2 318.8 467.9 320.4 467.6C322.1 467.3 323.7 466.9 325.4 466.5C327.0 466.1 328.7 465.7 330.3 465.3C331.9 464.8 333.5 464.3 335.2 463.8C336.8 463.4 338.4 462.8 340.0 462.3C341.6 461.7 343.2 461.2 344.8 460.6C346.3 460.0 347.9 459.4 349.5 458.7C351.0 458.1 352.6 457.4 354.1 456.8C355.7 456.1 357.2 455.4 358.7 454.7C360.2 453.9 361.7 453.2 363.2 452.5C364.7 451.7 366.2 450.9 367.7 450.2C369.1 449.4 370.6 448.6 372.1 447.8C373.6 447.0 375.0 446.2 376.5 445.4C378.0 444.7 379.4 443.9 380.9 443.1C382.4 442.3 383.9 441.5 385.3 440.8C386.8 440.0 388.3 439.2 389.8 438.5C391.3 437.8 392.9 437.0 394.4 436.3C395.9 435.6 397.5 434.9 399.1 434.3C400.6 433.6 402.2 433.0 403.8 432.5C405.4 431.9 407.0 431.4 408.6 431.0C410.3 430.5 411.9 430.2 413.5 429.9C415.2 429.6 416.8 429.4 418.5 429.3C420.2 429.2 421.8 429.2 423.5 429.2C425.2 429.2 426.9 429.2 428.5 429.3C430.2 429.4 431.9 429.5 433.5 429.6C435.2 429.7 436.9 429.9 438.6 430.0C440.2 430.1 441.9 430.3 443.6 430.4C445.3 430.6 446.9 430.7 448.6 430.9C450.3 431.1 451.9 431.2 453.6 431.4C455.3 431.5 457.0 431.7 458.6 431.9C460.3 432.0 462.0 432.2 463.6 432.3C465.3 432.4 467.0 432.6 468.7 432.7C470.3 432.8 472.0 432.9 473.7 433.0C475.4 433.1 477.0 433.2 478.7 433.3C480.4 433.4 482.0 433.5 483.7 433.6C485.4 433.7 487.1 433.8 488.7 433.8C490.4 433.9 492.1 434.0 493.8 434.1C495.4 434.1 497.1 434.2 498.8 434.3C500.5 434.3 502.2 434.4 503.8 434.5C505.5 434.5 507.2 434.6 508.9 434.7C510.5 434.7 512.2 434.8 513.9 434.9C515.6 434.9 517.3 435.0 518.9 435.1C520.6 435.1 522.3 435.2 524.0 435.3C525.7 435.4 527.3 435.5 529.0 435.6C530.7 435.7 532.4 435.8 534.1 435.9C535.7 436.0 537.4 436.1 539.1 436.3C540.8 436.4 542.4 436.6 544.1 436.8C545.8 436.9 547.4 437.1 549.1 437.3C550.8 437.5 552.4 437.8 554.1 438.0C555.7 438.3 557.4 438.5 559.0 438.8C560.7 439.1 562.3 439.4 564.0 439.7C565.6 440.1 567.3 440.4 568.9 440.7C570.6 441.1 572.2 441.4 573.8 441.8C575.5 442.1 577.1 442.5 578.8 442.9C580.4 443.2 582.0 443.6 583.7 443.9C585.3 444.3 587.0 444.7 588.6 445.0C590.2 445.3 591.9 445.7 593.5 446.0C595.2 446.3 596.8 446.6 598.5 446.9C600.1 447.2 601.8 447.5 603.4 447.8C605.1 448.0 606.8 448.3 608.4 448.5C610.1 448.7 611.7 449.0 613.4 449.2C615.1 449.4 616.7 449.6 618.4 449.8C620.1 450.0 621.7 450.1 623.4 450.3C625.1 450.5 626.7 450.6 628.4 450.8C630.1 451.0 631.7 451.1 633.4 451.2C635.1 451.4 636.8 451.5 638.4 451.6C640.1 451.8 641.8 451.9 643.5 452.0C645.1 452.1 646.8 452.2 648.5 452.3C650.2 452.5 651.8 452.6 653.5 452.7C655.2 452.8 656.9 452.9 658.5 453.0C660.2 453.1 661.9 453.2 663.6 453.3C665.3 453.4 666.9 453.5 668.6 453.6C670.3 453.7 672.0 453.8 673.6 453.9C675.3 454.0 677.0 454.1 678.7 454.2C680.3 454.4 682.0 454.5 683.7 454.6C685.3 454.7 687.0 454.9 688.7 455.0C690.4 455.1 692.0 455.3 693.7 455.4C695.4 455.6 697.0 455.7 698.7 455.9C700.4 456.1 702.0 456.3 703.7 456.4C705.4 456.6 707.0 456.8 708.7 457.1C710.3 457.3 712.0 457.5 713.7 457.8C715.3 458.0 717.0 458.3 718.6 458.6C720.3 458.9 722.0 459.2 723.6 459.5C725.3 459.8 726.9 460.2 728.6 460.5C730.2 460.8 731.9 461.2 733.5 461.5C735.2 461.8 736.8 462.2 738.5 462.5C740.2 462.8 741.8 463.1 743.5 463.4C745.1 463.7 746.8 463.9 748.4 464.1C750.1 464.4 751.8 464.6 753.4 464.8C755.1 465.0 756.7 465.2 758.4 465.3C760.1 465.5 761.7 465.7 763.4 465.8C765.1 465.9 766.7 466.0 768.4 466.1C770.1 466.3 771.7 466.3 773.4 466.4C775.1 466.5 776.7 466.6 778.4 466.6C780.1 466.7 781.7 466.7 783.4 466.8C785.1 466.8 786.8 466.8 788.4 466.8C790.1 466.9 791.8 466.9 793.5 466.9C795.1 466.9 796.8 466.9 798.5 466.9C800.2 466.8 801.8 466.8 803.5 466.8C805.2 466.8 806.9 466.8 808.6 466.7C810.2 466.7 811.9 466.7 813.6 466.6C815.3 466.6 817.0 466.6 818.6 466.5C820.3 466.5 822.0 466.4 823.7 466.4C825.4 466.4 827.0 466.3 828.7 466.3C830.4 466.3 832.1 466.2 833.8 466.2C835.5 466.2 837.1 466.1 838.8 466.1C840.5 466.1 842.2 466.1 843.9 466.0C845.6 466.0 847.2 466.0 848.9 466.0C850.6 466.0 852.3 466.0 854.0 466.0C855.7 465.9 857.3 465.9 859.0 466.0C860.7 466.0 862.4 466.0 864.1 466.0C865.8 466.0 867.4 466.0 869.1 466.1C870.8 466.1 872.5 466.1 874.2 466.2C875.8 466.2 877.5 466.3 879.2 466.3C880.9 466.4 882.6 466.5 884.2 466.5C885.9 466.6 887.6 466.7 889.3 466.8C890.9 466.9 892.6 467.0 894.3 467.1C896.0 467.2 897.6 467.3 899.3 467.5C901.0 467.6 902.6 467.8 904.3 467.9C906.0 468.1 907.6 468.3 909.3 468.4C911.0 468.6 912.6 468.8 914.3 469.0C915.9 469.2 917.6 469.4 919.3 469.7C920.9 469.9 922.6 470.1 924.2 470.4C925.9 470.6 927.6 470.9 929.2 471.1C930.9 471.4 932.5 471.7 934.2 472.0C935.8 472.2 937.5 472.5 939.1 472.8C940.8 473.1 942.4 473.4 944.1 473.7C945.7 474.0 947.4 474.3 949.0 474.7C950.7 475.0 952.3 475.3 954.0 475.6C955.6 475.9 957.3 476.3 958.9 476.6C960.5 476.9 962.2 477.3 963.8 477.6C965.5 478.0 967.1 478.3 968.8 478.7C970.4 479.0 972.1 479.3 973.7 479.7C975.3 480.0 977.0 480.4 978.6 480.7C980.3 481.1 981.9 481.4 983.6 481.8C985.2 482.1 986.8 482.5 988.5 482.8C990.1 483.2 991.8 483.5 993.4 483.9C995.1 484.2 996.7 484.5 998.4 484.9C1000.0 485.2 1001.7 485.5 1003.3 485.9C1004.9 486.2 1006.6 486.5 1008.2 486.8C1009.9 487.2 1011.5 487.5 1013.2 487.8C1014.8 488.1 1016.5 488.4 1018.1 488.7C1019.8 489.0 1021.4 489.3 1023.1 489.6C1024.7 489.9 1026.4 490.1 1028.0 490.4C1029.7 490.7 1031.3 490.9 1033.0 491.2C1034.7 491.4 1036.3 491.7 1038.0 491.9C1039.6 492.1 1041.3 492.4 1042.9 492.6C1044.6 492.8 1046.3 493.0 1047.9 493.2C1049.6 493.4 1051.3 493.6 1052.9 493.7C1054.6 493.9 1056.3 494.1 1057.9 494.2C1059.6 494.3 1061.3 494.5 1062.9 494.6C1064.6 494.7 1066.3 494.8 1067.9 494.9C1069.6 495.0 1071.3 495.1 1073.0 495.2C1074.6 495.3 1076.3 495.3 1078.0 495.4C1079.7 495.4 1081.4 495.5 1083.0 495.5C1084.7 495.5 1086.4 495.5 1088.1 495.5C1089.8 495.6 1091.4 495.6 1093.1 495.7C1094.8 495.8 1096.5 495.9 1098.1 496.2C1099.8 496.4 1101.4 496.7 1103.1 497.0C1104.7 497.4 1106.4 497.8 1108.0 498.2C1109.6 498.7 1111.3 499.2 1112.9 499.6C1114.5 500.1 1116.1 500.7 1117.7 501.2C1119.3 501.7 1120.9 502.2 1122.5 502.8C1124.0 503.3 1125.6 503.8 1127.2 504.4C1128.8 504.9 1130.4 505.4 1131.9 506.0C1133.5 506.5 1135.1 507.0 1136.7 507.5C1138.3 508.1 1139.9 508.6 1141.5 509.0C1143.1 509.5 1144.7 510.0 1146.3 510.4C1147.9 510.9 1149.6 511.3 1151.2 511.7C1152.9 512.1 1154.5 512.5 1156.2 512.9C1157.9 513.2 1159.5 513.6 1161.2 514.0C1162.9 514.3 1164.5 514.7 1166.2 515.1C1167.9 515.5 1169.5 515.9 1171.2 516.3C1172.8 516.7 1174.4 517.1 1176.0 517.6C1177.6 518.1 1179.2 518.7 1180.8 519.2C1182.3 519.8 1183.9 520.4 1185.3 521.1C1186.8 521.8 1188.3 522.6 1189.7 523.5C1191.0 524.3 1192.4 525.3 1193.6 526.3C1194.8 527.4 1195.9 528.6 1197.0 529.8C1198.1 531.1 1199.0 532.4 1199.9 533.8C1200.9 535.3 1201.7 536.7 1202.5 538.2C1203.4 539.7 1204.1 541.3 1204.9 542.8C1205.6 544.3 1206.3 545.9 1207.0 547.5C1207.7 549.0 1208.4 550.6 1209.1 552.1C1209.7 553.7 1210.4 555.2 1211.1 556.7C1211.8 558.2 1212.8 560.4 1213.1 561.1" stroke="#ffffff" stroke-width="3.8" stroke-dasharray="12.236 8.329"/>
</g>
<g class="tk" font-size="18.4">
<text x="130.6" y="116.0" text-anchor="end">750</text>
<text x="1322.7" y="116.0" text-anchor="start">750</text>
<text x="130.6" y="172.5" text-anchor="end">685</text>
<text x="1322.7" y="172.5" text-anchor="start">685</text>
<text x="130.6" y="228.9" text-anchor="end">620</text>
<text x="1322.7" y="228.9" text-anchor="start">620</text>
<text x="130.6" y="285.4" text-anchor="end">555</text>
<text x="1322.7" y="285.4" text-anchor="start">555</text>
<text x="130.6" y="341.8" text-anchor="end">490</text>
<text x="1322.7" y="341.8" text-anchor="start">490</text>
<text x="130.6" y="398.3" text-anchor="end">425</text>
<text x="1322.7" y="398.3" text-anchor="start">425</text>
<text x="130.6" y="454.7" text-anchor="end">360</text>
<text x="1322.7" y="454.7" text-anchor="start">360</text>
<text x="130.6" y="511.1" text-anchor="end">295</text>
<text x="1322.7" y="511.1" text-anchor="start">295</text>
<text x="130.6" y="567.6" text-anchor="end">230</text>
<text x="1322.7" y="567.6" text-anchor="start">230</text>
<text x="130.6" y="624.0" text-anchor="end">165</text>
<text x="1322.7" y="624.0" text-anchor="start">165</text>
<text x="130.6" y="680.5" text-anchor="end">100</text>
<text x="1322.7" y="680.5" text-anchor="start">100</text>
<text x="140.1" y="700.0" text-anchor="middle">2000</text>
<text x="257.5" y="700.0" text-anchor="middle">2490</text>
<text x="374.8" y="700.0" text-anchor="middle">2980</text>
<text x="492.1" y="700.0" text-anchor="middle">3470</text>
<text x="609.4" y="700.0" text-anchor="middle">3960</text>
<text x="726.8" y="700.0" text-anchor="middle">4450</text>
<text x="844.1" y="700.0" text-anchor="middle">4940</text>
<text x="961.4" y="700.0" text-anchor="middle">5430</text>
<text x="1078.7" y="700.0" text-anchor="middle">5920</text>
<text x="1196.1" y="700.0" text-anchor="middle">6410</text>
<text x="1313.4" y="700.0" text-anchor="middle">6900</text>
</g>
<text y="65.60" font-size="27.50" letter-spacing="0.340"><tspan x="415.40">B9</tspan> <tspan x="457.98">3.0T</tspan> <tspan x="522.16">EA839</tspan> <tspan x="614.31">-</tspan> <tspan x="631.49">TTE710</tspan> <tspan x="739.33">E60</tspan> <tspan x="796.96">+High</tspan> <tspan x="879.25">Flow</tspan> <tspan x="946.36">Cat</tspan></text>
<text x="590.00" y="744.70" font-size="27.20" letter-spacing="0.570">Engine Speed (RPM)</text>
<text transform="translate(60.90 523.00) rotate(-90)" font-size="23.00" letter-spacing="-0.200">Crank Horsepower (HP)</text>
<text transform="translate(1396.40 500.00) rotate(-90)" font-size="19.00" letter-spacing="-0.030">Crank Torque (FT-LBS)</text>
<g stroke-width="4.3" fill="none">
<line x1="198.7" y1="827.7" x2="209.7" y2="827.7" stroke="#fefe08"/>
<line x1="413.2" y1="827.7" x2="424.8" y2="827.7" stroke="#f8f8f8"/>
<line x1="684.5" y1="827.7" x2="697.0" y2="827.7" stroke="#fefe08"/>
<line x1="705.7" y1="827.7" x2="718.1" y2="827.7" stroke="#fefe08"/>
<line x1="944.2" y1="827.7" x2="957.0" y2="827.7" stroke="#f8f8f8"/>
<line x1="965.8" y1="827.7" x2="978.1" y2="827.7" stroke="#f8f8f8"/>
</g>
<text x="217.60" y="835.30" font-size="27.20" letter-spacing="0.360">034 - 720 HP</text>
<text x="432.30" y="835.30" font-size="27.20" letter-spacing="0.470">034 - 720 FT-LBS</text>
<text x="740.60" y="835.30" font-size="27.20" letter-spacing="0.410">Stock - 350 HP</text>
<text x="1001.00" y="835.30" font-size="27.20" letter-spacing="0.380">Stock - 393 FT-LBS</text>
</svg>
</body></html>
